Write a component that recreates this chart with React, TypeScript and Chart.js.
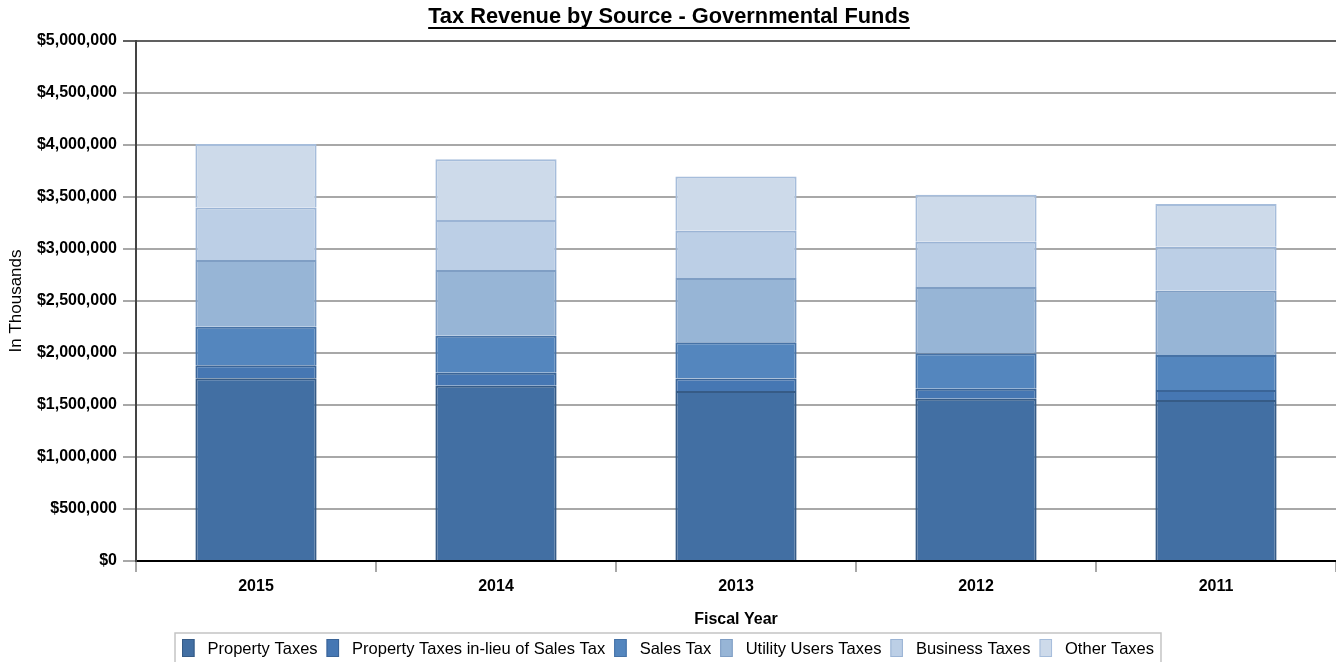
import React, { useEffect, useRef } from "react";
import { Chart, registerables } from "chart.js";

Chart.register(...registerables);

const categories = ["2015", "2014", "2013", "2012", "2011"];
const propertyTaxes = [1757000, 1686000, 1635000, 1561000, 1548000];
const inLieuTaxes = [125000, 125000, 121000, 96000, 96000];
const salesTax = [371000, 356000, 347000, 340000, 337000];
const utilityUsersTaxes = [641000, 631000, 618000, 638000, 618000];
const businessTaxes = [506000, 481000, 455000, 435000, 423000];
const otherTaxes = [610000, 584000, 520000, 452000, 411000];
const seriesNames = [
  "Property Taxes",
  "Property Taxes in-lieu of Sales Tax",
  "Sales Tax",
  "Utility Users Taxes",
  "Business Taxes",
  "Other Taxes",
];
const fills = ["#426fa3", "#4677b3", "#5486be", "#97b5d6", "#bccfe6", "#cddaea"];
const borders = ["#365b86", "#3a6497", "#4672a6", "#7f9ec4", "#9bb4d5", "#a6bddb"];
const titleText = "Tax Revenue by Source - Governmental Funds";
const yTitle = "In Thousands";
const xTitle = "Fiscal Year";
const yMax = 5000000;
const yStep = 500000;

const FONT = "'Liberation Sans', Arial, sans-serif";

const decorPlugin = {
  id: "decor",
  afterDraw(chart: any) {
    const ctx = chart.ctx;
    const W = chart.width;
    ctx.save();
    // Title
    ctx.font = `bold 21.8px ${FONT}`;
    ctx.fillStyle = "#000";
    ctx.textAlign = "center";
    ctx.textBaseline = "middle";
    const tx = W / 2 + 1;
    ctx.fillText(titleText, tx, 17);
    const tw = ctx.measureText(titleText).width;
    ctx.fillRect(tx - tw / 2, 27, tw, 2);

    // Legend
    ctx.font = `16.5px ${FONT}`;
    const boxW = 12.5;
    const boxH = 18;
    const gapBoxText = 13;
    const gapItem = 9;
    const widths = seriesNames.map((n) => ctx.measureText(n).width);
    let total = 0;
    widths.forEach((w, i) => {
      total += boxW + gapBoxText + w + (i < widths.length - 1 ? gapItem : 0);
    });
    const lx0 = W / 2 - total / 2;
    const cy = 648;
    ctx.strokeStyle = "#c4c4c4";
    ctx.lineWidth = 1.5;
    ctx.strokeRect(lx0 - 7, 633, total + 14, 34);
    let x = lx0;
    ctx.textAlign = "left";
    seriesNames.forEach((n, i) => {
      ctx.fillStyle = fills[i];
      ctx.fillRect(x, cy - boxH / 2, boxW, boxH);
      ctx.strokeStyle = borders[i];
      ctx.lineWidth = 1;
      ctx.strokeRect(x + 0.5, cy - boxH / 2 + 0.5, boxW - 1, boxH - 1);
      ctx.fillStyle = "#000";
      ctx.fillText(n, x + boxW + gapBoxText, cy + 1);
      x += boxW + gapBoxText + widths[i] + gapItem;
    });
    ctx.restore();
  },
};

export default function App() {
  const ref = useRef<HTMLCanvasElement | null>(null);
  useEffect(() => {
    if (!ref.current) return;
    const seriesData = [propertyTaxes, inLieuTaxes, salesTax, utilityUsersTaxes, businessTaxes, otherTaxes];
    const chart = new Chart(ref.current, {
      type: "bar",
      data: {
        labels: categories,
        datasets: seriesData.map((d, i) => ({
          label: seriesNames[i],
          data: d,
          backgroundColor: fills[i],
          borderColor: borders[i],
          borderWidth: 2,
          barPercentage: 0.505,
          categoryPercentage: 1,
        })),
      },
      options: {
        animation: false,
        responsive: false,
        maintainAspectRatio: false,
        layout: { padding: { top: 41, right: 0, bottom: 32, left: 0 } },
        plugins: {
          legend: { display: false },
          title: { display: false },
          tooltip: { enabled: false },
        },
        scales: {
          x: {
            stacked: true,
            border: { display: true, color: "#000", width: 2 },
            grid: {
              drawOnChartArea: false,
              drawTicks: true,
              tickLength: 11,
              color: "#a8a8a8",
              lineWidth: 2,
              offset: true,
            },
            ticks: {
              color: "#000",
              font: { family: FONT, size: 16, weight: "bold" },
              padding: 5,
            },
            title: {
              display: true,
              text: xTitle,
              color: "#000",
              font: { family: FONT, size: 16, weight: "bold" },
              padding: { top: 4, bottom: 1 },
            },
            afterFit(scale: any) {
              scale.height = 69;
            },
          },
          y: {
            stacked: true,
            min: 0,
            max: yMax,
            border: { display: true, color: "#444", width: 2 },
            grid: {
              color: (c: any) => (c.tick && c.tick.value === yMax ? "#606060" : "#a8a8a8"),
              lineWidth: 2,
              tickLength: 13,
            },
            ticks: {
              stepSize: yStep,
              color: "#000",
              padding: 6,
              font: { family: FONT, size: 16, weight: "bold" },
              callback: (v: any) => "$" + Number(v).toLocaleString("en-US"),
            },
            title: {
              display: true,
              text: yTitle,
              color: "#000",
              font: { family: FONT, size: 17 },
              padding: { top: 6, bottom: 0 },
            },
            afterFit(scale: any) {
              scale.width = 136;
            },
          },
        },
      },
      plugins: [decorPlugin],
    });
    return () => chart.destroy();
  }, []);
  return (
    <div style={{ position: "fixed", left: 0, top: 0, width: 1336, height: 662, background: "#fff" }}>
      <canvas ref={ref} width={1336} height={662} style={{ width: 1336, height: 662, display: "block" }} />
    </div>
  );
}
